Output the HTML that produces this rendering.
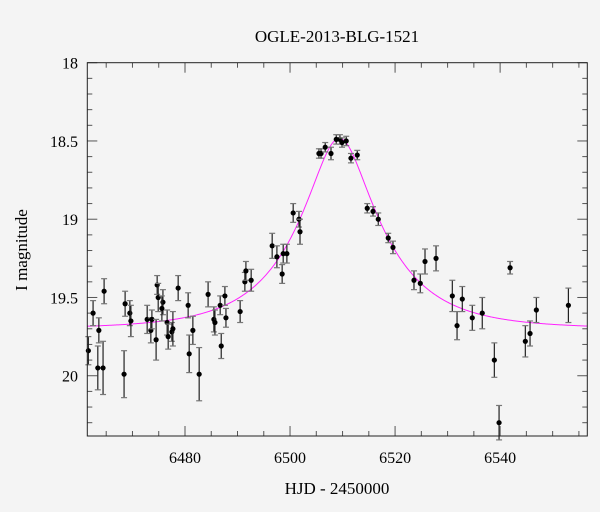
<!DOCTYPE html>
<html><head><meta charset="utf-8"><style>
body{margin:0;background:#f4f4f4;}
svg{display:block;font-family:"Liberation Serif",serif;}
</style></head><body>
<svg id="chart" width="600" height="512">
<rect width="600" height="512" fill="#f4f4f4"/>
<text x="337" y="42" font-size="17" text-anchor="middle">OGLE-2013-BLG-1521</text>
<text x="337" y="494" font-size="17" text-anchor="middle">HJD - 2450000</text>
<text x="0" y="0" font-size="17" text-anchor="middle" transform="translate(27,250) rotate(-90)">I magnitude</text>
<g id="axes"></g>
<g id="curve"></g>
<g id="points"></g>
<rect x="87.3" y="62.7" width="500" height="373.3" fill="none" stroke="#222" stroke-width="1"/>
</svg>
<script>
const times=[6461.6,6462.5,6463.6,6463.4,6464.4,6464.6,6468.4,6468.6,6469.5,6469.7,6472.8,6473.5,6473.7,6474.5,6474.7,6474.9,6475.8,6475.6,6476.6,6476.8,6477.5,6477.7,6478.7,6480.6,6480.8,6481.5,6482.7,6484.4,6485.5,6485.7,6486.7,6486.9,6487.6,6487.8,6490.5,6491.4,6491.6,6492.6,6496.6,6497.5,6498.5,6498.7,6499.4,6500.6,6501.7,6501.9,6505.5,6505.9,6506.7,6507.8,6508.8,6509.5,6509.9,6510.7,6511.6,6512.8,6514.7,6515.8,6516.8,6518.7,6519.6,6523.6,6524.8,6525.7,6527.8,6530.9,6531.8,6532.8,6534.7,6536.6,6538.9,6539.8,6541.9,6544.8,6545.7,6546.9,6553.0];
const mags=[19.84,19.60,19.71,19.95,19.95,19.46,19.99,19.54,19.60,19.65,19.64,19.71,19.64,19.77,19.42,19.50,19.53,19.57,19.66,19.75,19.72,19.70,19.44,19.55,19.86,19.71,19.99,19.48,19.64,19.66,19.55,19.81,19.49,19.63,19.59,19.40,19.33,19.39,19.17,19.24,19.35,19.22,19.22,18.96,19.00,19.08,18.58,18.58,18.54,18.58,18.49,18.49,18.51,18.50,18.61,18.59,18.93,18.95,19.00,19.12,19.18,19.39,19.41,19.27,19.25,19.49,19.68,19.51,19.63,19.60,19.90,20.30,19.31,19.78,19.73,19.58,19.55];
const errs=[0.09,0.08,0.08,0.14,0.17,0.08,0.15,0.08,0.08,0.10,0.09,0.08,0.06,0.13,0.06,0.09,0.08,0.08,0.08,0.08,0.06,0.11,0.08,0.08,0.12,0.09,0.17,0.08,0.08,0.08,0.06,0.08,0.06,0.06,0.07,0.06,0.06,0.07,0.08,0.07,0.06,0.06,0.06,0.06,0.05,0.08,0.03,0.03,0.03,0.04,0.03,0.03,0.03,0.03,0.03,0.03,0.03,0.03,0.04,0.03,0.04,0.06,0.06,0.08,0.08,0.10,0.09,0.08,0.08,0.10,0.11,0.11,0.04,0.10,0.08,0.08,0.11];
const xTicks=[6480,6500,6520,6540];
const yTicks=[18,18.5,19,19.5,20];
const yTickLabels=["18","18.5","19","19.5","20"];
const modelParams=[6509.4,0.34,15.6,19.70]; // t0,u0,tE,baseline
const X0=87.3,X1=587.3,Y0=62.7,Y1=436;
const tMin=6461.4,tMax=6556.6,mMin=18,mMax=20.385;
const xs=t=>X0+(t-tMin)/(tMax-tMin)*(X1-X0);
const ys=m=>Y0+(m-mMin)/(mMax-mMin)*(Y1-Y0);
const NS="http://www.w3.org/2000/svg";
function mk(tag,attrs,parent){const e=document.createElementNS(NS,tag);for(const k in attrs)e.setAttribute(k,attrs[k]);parent.appendChild(e);return e;}
const axes=document.getElementById('axes');
for(let t=6465;t<=6555;t+=5){
  const major=(t%20===0);const L=major?10:5;const x=xs(t);
  const a=mk('line',{x1:x,x2:x,y1:Y1,y2:Y1-L,stroke:'#555','stroke-width':1},axes);
  
  
  const b=mk('line',{x1:x,x2:x,y1:Y0,y2:Y0+L,stroke:'#555','stroke-width':1},axes);
  
  
}
xTicks.forEach(t=>{
  const tx=mk('text',{x:xs(t),y:463,'font-size':16,'text-anchor':'middle'},axes);tx.textContent=t;
  
  
});
for(let i=0;i<=24;i++){
  const m=18+i*0.1;if(m>mMax)break;const major=(i%5===0);const L=major?10:5;const y=ys(m);
  const a=mk('line',{x1:X0,x2:X0+L,y1:y,y2:y,stroke:'#555','stroke-width':1},axes);
  
  
  const b=mk('line',{x1:X1,x2:X1-L,y1:y,y2:y,stroke:'#555','stroke-width':1},axes);
  
  
}
yTicks.forEach((m,i)=>{
  const tx=mk('text',{x:78,y:ys(m)+6,'font-size':16,'text-anchor':'end'},axes);tx.textContent=yTickLabels[i];
  
  
});
const [t0,u0,tE,base]=modelParams;
let d='';
for(let t=tMin;t<=tMax;t+=0.2){
  const u=Math.sqrt(u0*u0+Math.pow((t-t0)/tE,2));
  const A=(u*u+2)/(u*Math.sqrt(u*u+4));
  const m=base-2.5*Math.log10(A);
  d+=(d?'L':'M')+xs(t).toFixed(2)+','+ys(m).toFixed(2);
}
const cp=mk('path',{d:d,fill:'none',stroke:'#ff22ff','stroke-width':1},document.getElementById('curve'));


const pg=document.getElementById('points');
times.forEach((t,i)=>{
  const x=xs(t),y=ys(mags[i]),ya=ys(mags[i]-errs[i]),yb=ys(mags[i]+errs[i]);
  const g=mk('g',{},pg);
  
  
  mk('line',{x1:x,x2:x,y1:ya,y2:yb,stroke:'#222','stroke-width':1.2},g);
  mk('line',{x1:x-3,x2:x+3,y1:ya,y2:ya,stroke:'#777','stroke-width':1.2},g);
  mk('line',{x1:x-3,x2:x+3,y1:yb,y2:yb,stroke:'#777','stroke-width':1.2},g);
  mk('circle',{cx:x,cy:y,r:2.6,fill:'#000'},g);
});
</script>
</body></html>
